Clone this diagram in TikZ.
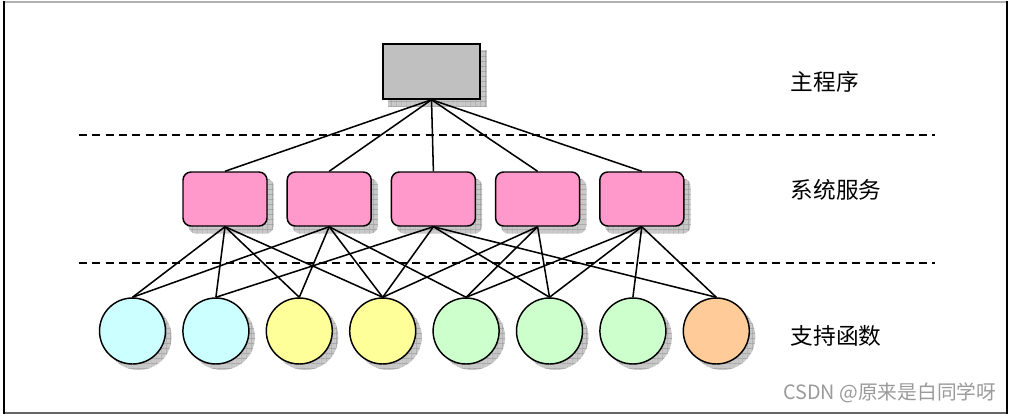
\documentclass[tikz,border=0pt]{standalone}
\usepackage{fontspec}
\setmainfont{Liberation Sans}
\newfontfamily\cjk{Noto Sans CJK SC}
\usetikzlibrary{backgrounds,patterns.meta}

\definecolor{maingray}{HTML}{C0C0C0}
\definecolor{svcpink}{HTML}{FF99CC}
\definecolor{utilcyan}{HTML}{CCFFFF}
\definecolor{utilyellow}{HTML}{FFFF99}
\definecolor{utilgreen}{HTML}{CCFFCC}
\definecolor{utilorange}{HTML}{FFCC99}
\definecolor{shadowgray}{HTML}{C8C8C8}
\definecolor{gridgray}{HTML}{999999}
\definecolor{markgray}{HTML}{9A9A9A}

\begin{document}
\begin{tikzpicture}[x=0.75pt,y=-0.75pt]

    \tikzset{
      mainbox/.style={draw, line width=1.1pt, fill=maingray,
        minimum width=72.75pt, minimum height=41.25pt, inner sep=0pt},
      svcbox/.style={draw, line width=1.1pt, fill=svcpink, rounded corners=6pt,
        minimum width=63pt, minimum height=40.5pt, inner sep=0pt},
      utilcirc/.style={draw, circle, line width=1.1pt,
        minimum size=49.5pt, inner sep=0pt},
      shadowbox/.style={fill=shadowgray,
        postaction={pattern={Lines[angle=0,distance=4pt,line width=0.4pt]}, pattern color=gridgray},
        postaction={pattern={Lines[angle=90,distance=4pt,line width=0.4pt]}, pattern color=gridgray}},
      link/.style={line width=1.15pt},
      layerline/.style={line width=1.1pt, dash pattern=on 6pt off 4pt},
      layertext/.style={anchor=west, font=\cjk\fontsize{17}{20}\selectfont},
    }
    \useasboundingbox (0,0) rectangle (1009,415);

    % frame
    \draw[gray!60, line width=1.5pt] (4,1.5) -- (1007,1.5);
    \draw[gray!80!black, line width=1.5pt] (4,413) -- (1007,413);
    \draw[black, line width=2pt] (4,1) -- (4,414);
    \draw[black, line width=2pt] (1007,1) -- (1007,414);

    % layers
    \node[mainbox] (main) at (431.5,71.5) {};
    \foreach \s in {1,...,5}
      \node[svcbox] (svc\s) at ({225+104.2*(\s-1)},199) {};
    \foreach \u/\col in {1/utilcyan,2/utilcyan,3/utilyellow,4/utilyellow,
                         5/utilgreen,6/utilgreen,7/utilgreen,8/utilorange}
      \node[utilcirc, fill=\col] (util\u) at ({132.5+83.4*(\u-1)},331) {};

    % shadows
    \begin{scope}[on background layer]
      \path[shadowbox] ([shift={(6,7)}]main.south west) rectangle ([shift={(6,7)}]main.north east);
      \foreach \s in {1,...,5}
        \path[shadowbox, rounded corners=6pt] ([shift={(6,7)}]svc\s.south west) rectangle ([shift={(6,7)}]svc\s.north east);
      \foreach \u in {1,...,8}
        \path[shadowbox] ([shift={(6,6)}]util\u.center) circle[radius=33];
    \end{scope}

    % calls
    \foreach \s in {1,...,5}
      \draw[link] (main.south) -- (svc\s.north);
    \foreach \s/\u in {1/1,1/2,1/3,1/4,2/1,2/3,2/4,2/5,3/2,3/4,3/6,3/8,
                       4/4,4/5,4/6,5/5,5/6,5/7,5/8}
      \draw[link] (svc\s.south) -- (util\u.north);

    % separators
    \coordinate (sepAw) at (79,135);  \coordinate (sepAe) at (935,135);
    \coordinate (sepBw) at (79,263);  \coordinate (sepBe) at (935,263);
    \draw[layerline] (sepAw) -- (sepAe);
    \draw[layerline] (sepBw) -- (sepBe);

    \node[layertext] (lblmain) at (786,82) {主程序};
    \node[layertext] (lblsvc) at (786,190) {系统服务};
    \node[layertext] (lblutil) at (786,336) {支持函数};

    \node[anchor=east, text=markgray, font=\cjk\fontsize{14.8}{16}\selectfont] (mark) at (1001,393) {CSDN @原来是白同学呀};

\end{tikzpicture}
\end{document}
